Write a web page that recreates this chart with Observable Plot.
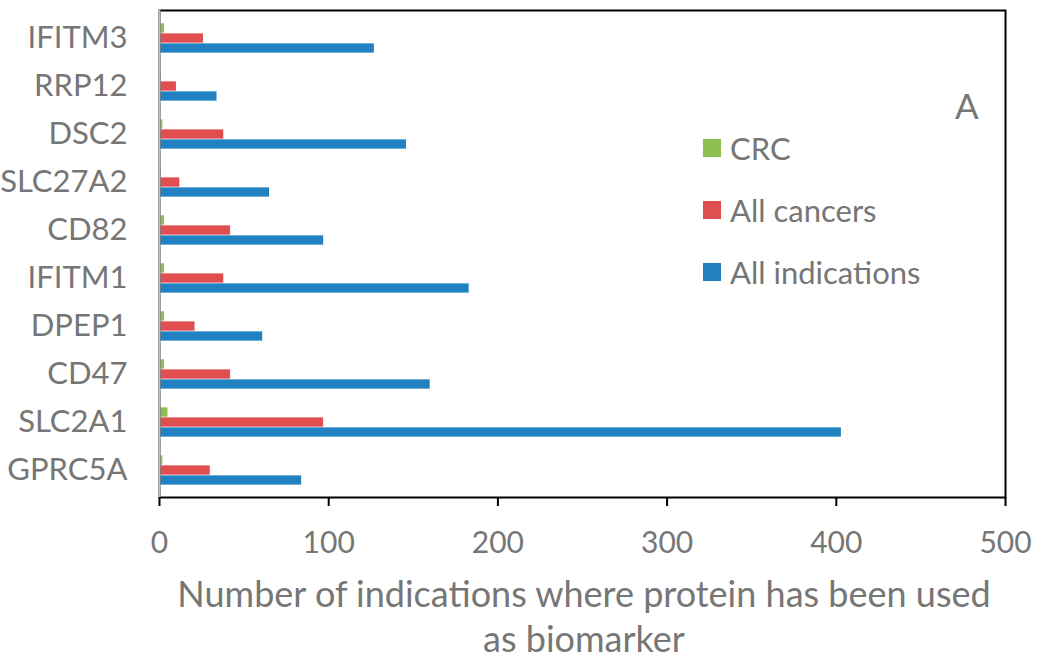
<!DOCTYPE html>
<html><head><meta charset="utf-8">
<script src="https://cdn.jsdelivr.net/npm/d3@7"></script>
<script src="https://cdn.jsdelivr.net/npm/@observablehq/plot@0.6"></script>
<style>
body{margin:0;background:#fff;}
#wrap{position:relative;width:1038px;height:664px;font-family:Lato,"Open Sans",sans-serif;color:#767676;overflow:hidden;}
#wrap svg{position:absolute;left:0;top:0;}
.legend{position:absolute;left:703px;top:0;}
.legend .row{position:absolute;left:0;white-space:nowrap;display:flex;align-items:center;font-size:31px;line-height:1;}
.legend .sw{width:18px;height:18px;margin-right:9px;flex:none;}
.panel{position:absolute;left:955px;top:88px;font-size:35px;line-height:1;}
.xtitle{position:absolute;left:139px;width:890px;top:571px;text-align:center;font-size:36px;line-height:45px;white-space:nowrap;}
</style></head><body><div id="wrap"></div>
<script>
const genes = ["IFITM3","RRP12","DSC2","SLC27A2","CD82","IFITM1","DPEP1","CD47","SLC2A1","GPRC5A"];
const crc = [3,1,2,1,3,3,3,3,5,2];
const allCancers = [26,10,38,12,42,38,21,42,97,30];
const allIndications = [127,34,146,65,97,183,61,160,403,84];
const seriesNames = ["CRC","All cancers","All indications"];
const seriesColors = ["#8fbf4f","#df4f4f","#2181c1"];
const xTicks = [0,100,200,300,400,500];
const xTitleLines = ["Number of indications where protein has been used","as biomarker"];
const panelLabel = "A";

const seriesValues = [crc, allCancers, allIndications];
const barOffsets = [-10, 0, 10];
const bandInset = 19.35;

const barMarks = seriesValues.map((vals, i) =>
  Plot.barX(genes.map((g, j) => ({gene: g, value: vals[j], series: seriesNames[i]})), {
    y: "gene", x: "value", fill: "series",
    insetTop: bandInset, insetBottom: bandInset, dy: barOffsets[i]
  })
);

const chart = Plot.plot({
  width: 1038, height: 664,
  marginLeft: 159, marginRight: 33, marginTop: 10, marginBottom: 167,
  style: {fontFamily: "Lato, 'Open Sans', sans-serif", fontSize: "30px", color: "#767676", background: "#fff", overflow: "visible"},
  x: {domain: [0, 500]},
  y: {domain: genes, padding: 0},
  color: {domain: seriesNames, range: seriesColors},
  marks: [
    ...barMarks,
    Plot.frame({stroke: "#000", strokeWidth: 2}),
    Plot.ruleX([0], {stroke: "#c0c0c0", strokeWidth: 2}),
    Plot.axisX({ticks: xTicks, tickSize: 9, tickPadding: 25, stroke: "#000", strokeWidth: 2, fill: "#767676", fontSize: 30, label: null}),
    Plot.axisY({tickSize: 0, tickPadding: 32, fill: "#767676", fontSize: 31, label: null})
  ]
});

const wrap = document.getElementById("wrap");
wrap.appendChild(chart);

const legend = document.createElement("div");
legend.className = "legend";
const rowCenters = [148, 210, 272];
seriesNames.forEach((name, i) => {
  const row = document.createElement("div");
  row.className = "row";
  row.style.top = (rowCenters[i] - 15) + "px";
  row.style.height = "30px";
  const sw = document.createElement("span");
  sw.className = "sw";
  sw.style.background = seriesColors[i];
  const t = document.createElement("span");
  t.textContent = name;
  row.appendChild(sw); row.appendChild(t);
  legend.appendChild(row);
});
wrap.appendChild(legend);

const panel = document.createElement("div");
panel.className = "panel";
panel.textContent = panelLabel;
wrap.appendChild(panel);

const xt = document.createElement("div");
xt.className = "xtitle";
xt.innerHTML = xTitleLines.map(s => "<div>" + s + "</div>").join("");
wrap.appendChild(xt);
</script>
</body></html>
